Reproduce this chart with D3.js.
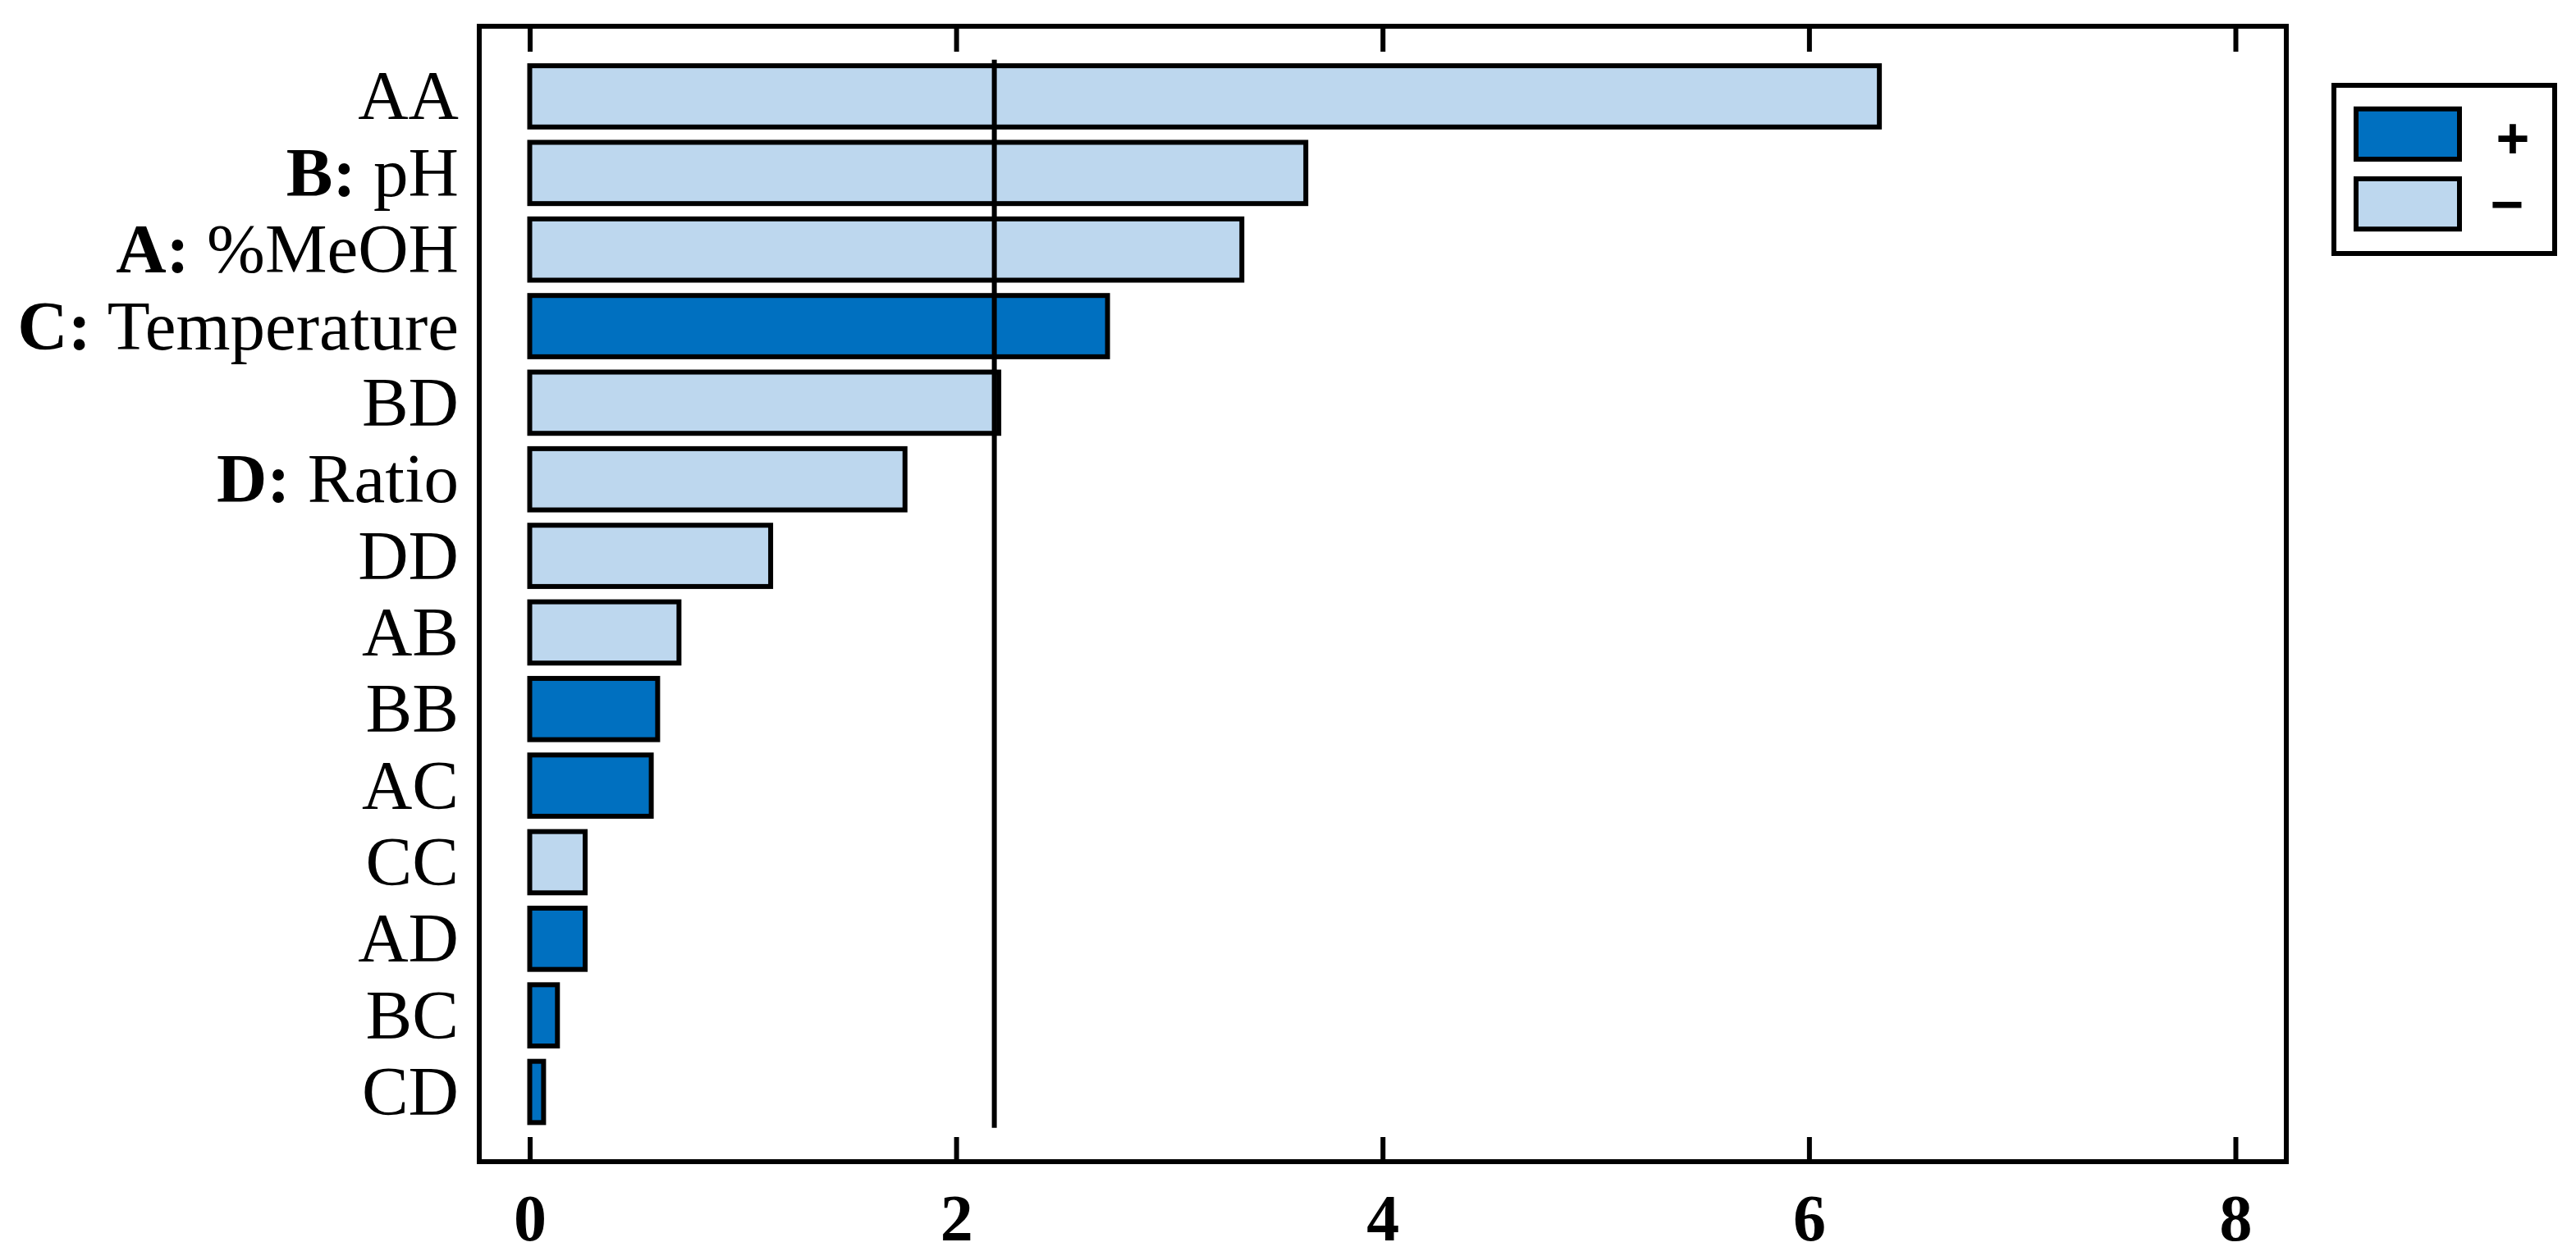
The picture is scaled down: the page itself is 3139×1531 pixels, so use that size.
<!DOCTYPE html>
<html>
<head>
<meta charset="utf-8">
<script src="https://cdn.jsdelivr.net/npm/d3@7"></script>
<style>
  html, body { margin: 0; padding: 0; background: #fff; }
  svg { display: block; }
</style>
</head>
<body>
<script>
// ---- data ----
const categories = ["AA", "B: pH", "A: %MeOH", "C: Temperature", "BD", "D: Ratio", "DD", "AB", "BB", "AC", "CC", "AD", "BC", "CD"];
const effects    = [6.33, 3.64, 3.34, 2.71, 2.20, 1.76, 1.13, 0.70, 0.60, 0.57, 0.26, 0.26, 0.13, 0.065];
const signs      = ["-", "-", "-", "+", "-", "-", "-", "-", "+", "+", "-", "+", "+", "+"];
const xTicks     = [0, 2, 4, 6, 8];
const tCritical  = 2.179;
const legendKeys   = ["+", "-"];
const legendLabels = ["+", "\u2212"];

// ---- layout ----
const W = 3139, H = 1531;
const frame = { left: 584, right: 2786, top: 32, bottom: 1416 };
const colors = { "+": "#0070C0", "-": "#BDD7EE" };
const SW = 6;
const fontFam = "'Liberation Serif', 'Times New Roman', serif";

const svg = d3.select("body").append("svg")
  .attr("width", W).attr("height", H);

const x = d3.scaleLinear().domain([0, 8]).range([645.5, 2724]);
const y = d3.scaleBand().domain(categories).range([70.8, 1377.7])
  .paddingInner(0.2).paddingOuter(0.1);

// bars
const data = categories.map((c, i) => ({ cat: c, v: effects[i], s: signs[i] }));
svg.append("g").selectAll("rect").data(data).join("rect")
  .attr("x", x(0))
  .attr("y", d => y(d.cat))
  .attr("width", d => x(d.v) - x(0))
  .attr("height", y.bandwidth())
  .attr("fill", d => colors[d.s])
  .attr("stroke", "#000")
  .attr("stroke-width", SW);

// reference line
svg.append("line")
  .attr("x1", x(tCritical)).attr("x2", x(tCritical))
  .attr("y1", y.range()[0] + 2).attr("y2", y.range()[1] - 3)
  .attr("stroke", "#000").attr("stroke-width", SW);

// frame
svg.append("rect")
  .attr("x", frame.left).attr("y", frame.top)
  .attr("width", frame.right - frame.left).attr("height", frame.bottom - frame.top)
  .attr("fill", "none").attr("stroke", "#000").attr("stroke-width", SW);

// bottom axis (ticks inside, labels below)
const axB = svg.append("g").attr("transform", `translate(0,${frame.bottom})`)
  .call(d3.axisBottom(x).tickValues(xTicks).tickSize(-30).tickPadding(0).tickFormat(d3.format("d")));
axB.select(".domain").remove();
axB.selectAll(".tick line").attr("stroke", "#000").attr("stroke-width", SW);
axB.selectAll(".tick text")
  .attr("y", 96).attr("dy", 0)
  .attr("fill", "#000")
  .style("font-family", fontFam).style("font-size", "80px").style("font-weight", "bold");

// top axis ticks
const axT = svg.append("g").attr("transform", `translate(0,${frame.top})`)
  .call(d3.axisTop(x).tickValues(xTicks).tickSize(-31).tickFormat(""));
axT.select(".domain").remove();
axT.selectAll(".tick line").attr("stroke", "#000").attr("stroke-width", SW);

// category labels
const lab = svg.append("g").selectAll("text").data(categories).join("text")
  .attr("x", 559)
  .attr("y", d => y(d) + y.bandwidth() / 2 + 28)
  .attr("text-anchor", "end")
  .style("font-family", fontFam).style("font-size", "85px").attr("fill", "#000");
lab.each(function(d) {
  const t = d3.select(this);
  const idx = d.indexOf(":");
  if (idx >= 0) {
    t.append("tspan").style("font-weight", "bold").text(d.slice(0, idx + 1));
    t.append("tspan").text(" " + d.slice(idx + 1).trim());
  } else {
    t.text(d);
  }
});

// legend
const lg = svg.append("g");
lg.append("rect").attr("x", 2844).attr("y", 104).attr("width", 269).attr("height", 205)
  .attr("fill", "#fff").attr("stroke", "#000").attr("stroke-width", SW);
const ly = d3.scaleBand().domain(legendKeys).range([120, 292]).paddingInner(0.28).paddingOuter(0.15);
lg.selectAll("rect.sw").data(legendKeys).join("rect").attr("class", "sw")
  .attr("x", 2871).attr("y", d => ly(d)).attr("width", 126).attr("height", ly.bandwidth())
  .attr("fill", d => colors[d]).attr("stroke", "#000").attr("stroke-width", SW);
lg.selectAll("text").data(legendKeys).join("text")
  .attr("x", (d, i) => i === 0 ? 3062 : 3055)
  .attr("y", (d, i) => ly(d) + ly.bandwidth() / 2 + (i === 0 ? 6 : 0))
  .attr("text-anchor", "middle").attr("dominant-baseline", "central")
  .style("font-family", "'Liberation Sans', Arial, sans-serif").style("font-size", "70px").style("font-weight", "bold")
  .attr("fill", "#000")
  .text((d, i) => legendLabels[i]);
</script>
</body>
</html>
